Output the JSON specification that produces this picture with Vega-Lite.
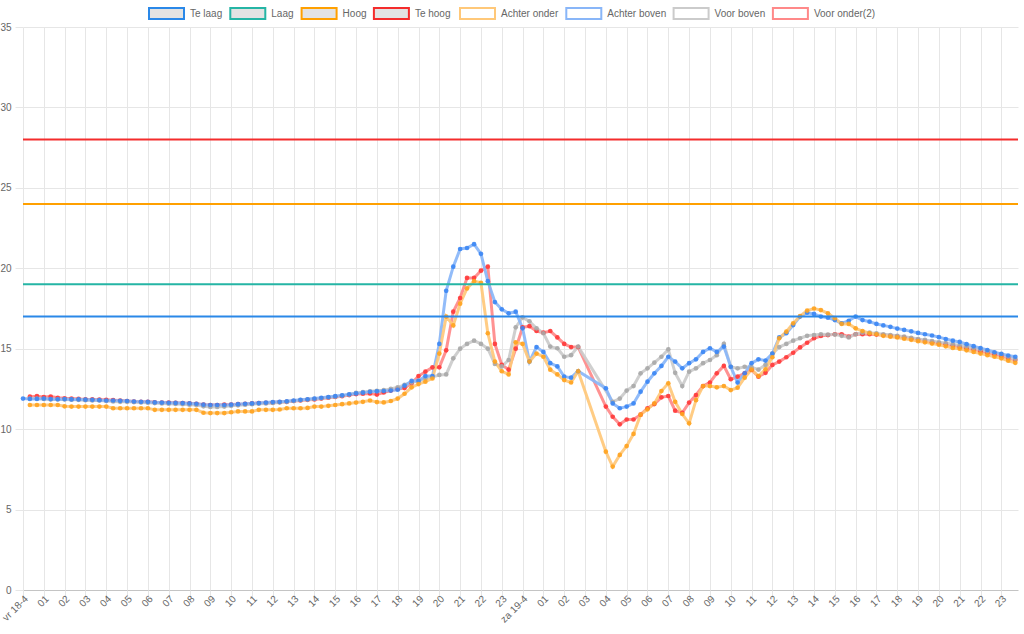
{
  "$schema": "https://vega.github.io/schema/vega-lite/v6.json",
  "width": 995,
  "height": 563,
  "autosize": {"type": "none"},
  "padding": {"left": 23, "top": 27, "right": 6, "bottom": 44},
  "background": "#ffffff",
  "config": {
    "font": "Liberation Sans",
    "view": {"stroke": null},
    "axis": {"labelFont": "Liberation Sans", "labelFontSize": 10, "labelColor": "#666666", "gridColor": "#e6e6e6", "tickColor": "#e6e6e6", "domain": false, "title": null, "tickSize": 8, "labelOverlap": false},
    "axisX": {"labelOverlap": false, "labelBound": false, "labelFlush": false},
    "legend": {"labelFont": "Liberation Sans", "labelFontSize": 10, "labelColor": "#666666"}
  },
  "datasets": {
    "grenzen": [
      {"reeks": "Te laag", "waarde": 17},
      {"reeks": "Laag", "waarde": 19},
      {"reeks": "Hoog", "waarde": 24},
      {"reeks": "Te hoog", "waarde": 28}
    ],
    "metingen": [
      {"uur":0.33,"ab":11.88,"ao":11.5,"vb":11.9,"vo":12.02},
      {"uur":0.67,"ab":11.88,"ao":11.5,"vb":11.9,"vo":12.05},
      {"uur":1,"ab":11.9,"ao":11.5,"vb":11.88,"vo":12},
      {"uur":1.33,"ab":11.87,"ao":11.5,"vb":11.85,"vo":12.03},
      {"uur":1.67,"ab":11.86,"ao":11.5,"vb":11.85,"vo":11.95},
      {"uur":2,"ab":11.87,"ao":11.42,"vb":11.85,"vo":11.92},
      {"uur":2.33,"ab":11.85,"ao":11.4,"vb":11.83,"vo":11.9},
      {"uur":2.67,"ab":11.85,"ao":11.4,"vb":11.82,"vo":11.88},
      {"uur":3,"ab":11.83,"ao":11.4,"vb":11.8,"vo":11.85},
      {"uur":3.33,"ab":11.82,"ao":11.4,"vb":11.78,"vo":11.85},
      {"uur":3.67,"ab":11.8,"ao":11.4,"vb":11.78,"vo":11.83},
      {"uur":4,"ab":11.78,"ao":11.4,"vb":11.75,"vo":11.82},
      {"uur":4.33,"ab":11.78,"ao":11.3,"vb":11.72,"vo":11.8},
      {"uur":4.67,"ab":11.76,"ao":11.3,"vb":11.7,"vo":11.78},
      {"uur":5,"ab":11.75,"ao":11.3,"vb":11.7,"vo":11.75},
      {"uur":5.33,"ab":11.72,"ao":11.3,"vb":11.68,"vo":11.72},
      {"uur":5.67,"ab":11.7,"ao":11.3,"vb":11.66,"vo":11.7},
      {"uur":6,"ab":11.7,"ao":11.3,"vb":11.64,"vo":11.7},
      {"uur":6.33,"ab":11.66,"ao":11.2,"vb":11.62,"vo":11.67},
      {"uur":6.67,"ab":11.65,"ao":11.2,"vb":11.6,"vo":11.65},
      {"uur":7,"ab":11.64,"ao":11.2,"vb":11.58,"vo":11.65},
      {"uur":7.33,"ab":11.63,"ao":11.2,"vb":11.57,"vo":11.63},
      {"uur":7.67,"ab":11.62,"ao":11.2,"vb":11.55,"vo":11.62},
      {"uur":8,"ab":11.6,"ao":11.2,"vb":11.52,"vo":11.6},
      {"uur":8.33,"ab":11.58,"ao":11.2,"vb":11.5,"vo":11.58},
      {"uur":8.67,"ab":11.52,"ao":11.02,"vb":11.42,"vo":11.52},
      {"uur":9,"ab":11.5,"ao":11,"vb":11.38,"vo":11.5},
      {"uur":9.33,"ab":11.5,"ao":11,"vb":11.38,"vo":11.5},
      {"uur":9.67,"ab":11.5,"ao":11,"vb":11.4,"vo":11.52},
      {"uur":10,"ab":11.52,"ao":11.05,"vb":11.45,"vo":11.53},
      {"uur":10.33,"ab":11.55,"ao":11.1,"vb":11.48,"vo":11.55},
      {"uur":10.67,"ab":11.58,"ao":11.1,"vb":11.52,"vo":11.57},
      {"uur":11,"ab":11.6,"ao":11.1,"vb":11.55,"vo":11.6},
      {"uur":11.33,"ab":11.62,"ao":11.2,"vb":11.58,"vo":11.62},
      {"uur":11.67,"ab":11.65,"ao":11.2,"vb":11.6,"vo":11.63},
      {"uur":12,"ab":11.68,"ao":11.2,"vb":11.63,"vo":11.65},
      {"uur":12.33,"ab":11.7,"ao":11.22,"vb":11.66,"vo":11.68},
      {"uur":12.67,"ab":11.73,"ao":11.3,"vb":11.7,"vo":11.7},
      {"uur":13,"ab":11.78,"ao":11.3,"vb":11.75,"vo":11.75},
      {"uur":13.33,"ab":11.82,"ao":11.3,"vb":11.8,"vo":11.78},
      {"uur":13.67,"ab":11.86,"ao":11.32,"vb":11.84,"vo":11.82},
      {"uur":14,"ab":11.9,"ao":11.4,"vb":11.88,"vo":11.85},
      {"uur":14.33,"ab":11.95,"ao":11.4,"vb":11.92,"vo":11.9},
      {"uur":14.67,"ab":12,"ao":11.45,"vb":11.97,"vo":11.95},
      {"uur":15,"ab":12.05,"ao":11.5,"vb":12.02,"vo":12},
      {"uur":15.33,"ab":12.1,"ao":11.55,"vb":12.08,"vo":12.05},
      {"uur":15.67,"ab":12.17,"ao":11.6,"vb":12.15,"vo":12.12},
      {"uur":16,"ab":12.22,"ao":11.65,"vb":12.25,"vo":12.18},
      {"uur":16.33,"ab":12.27,"ao":11.7,"vb":12.3,"vo":12.2},
      {"uur":16.67,"ab":12.32,"ao":11.78,"vb":12.35,"vo":12.22},
      {"uur":17,"ab":12.35,"ao":11.68,"vb":12.38,"vo":12.15},
      {"uur":17.33,"ab":12.37,"ao":11.66,"vb":12.42,"vo":12.28},
      {"uur":17.67,"ab":12.4,"ao":11.75,"vb":12.5,"vo":12.4},
      {"uur":18,"ab":12.45,"ao":11.9,"vb":12.6,"vo":12.5},
      {"uur":18.33,"ab":12.7,"ao":12.2,"vb":12.75,"vo":12.55},
      {"uur":18.67,"ab":13,"ao":12.6,"vb":12.9,"vo":12.85},
      {"uur":19,"ab":13,"ao":12.8,"vb":13,"vo":13.3},
      {"uur":19.33,"ab":13.3,"ao":12.95,"vb":13.15,"vo":13.57},
      {"uur":19.67,"ab":13.3,"ao":13.15,"vb":13.25,"vo":13.84},
      {"uur":20,"ab":15.3,"ao":14.7,"vb":13.37,"vo":13.84},
      {"uur":20.33,"ab":18.6,"ao":17,"vb":13.4,"vo":14.9},
      {"uur":20.67,"ab":20.1,"ao":16.45,"vb":14.4,"vo":17.3},
      {"uur":21,"ab":21.2,"ao":17.8,"vb":15,"vo":18.15},
      {"uur":21.33,"ab":21.26,"ao":18.75,"vb":15.3,"vo":19.4},
      {"uur":21.67,"ab":21.5,"ao":19.2,"vb":15.5,"vo":19.4},
      {"uur":22,"ab":20.9,"ao":19.1,"vb":15.3,"vo":19.85},
      {"uur":22.33,"ab":19.2,"ao":15.96,"vb":15,"vo":20.1},
      {"uur":22.67,"ab":17.9,"ao":14.2,"vb":14.05,"vo":15.3},
      {"uur":23,"ab":17.45,"ao":13.6,"vb":13.9,"vo":14},
      {"uur":23.33,"ab":17.2,"ao":13.4,"vb":14.3,"vo":13.7},
      {"uur":23.67,"ab":17.3,"ao":15.4,"vb":16.33,"vo":15},
      {"uur":24,"ab":16.27,"ao":15.3,"vb":16.95,"vo":16.33},
      {"uur":24.33,"ab":14.2,"ao":14.2,"vb":16.7,"vo":16.4},
      {"uur":24.67,"ab":15.1,"ao":14.7,"vb":16.27,"vo":16.1},
      {"uur":25,"ab":14.8,"ao":14.5,"vb":15.96,"vo":16},
      {"uur":25.33,"ab":14.1,"ao":13.7,"vb":15.13,"vo":16.1},
      {"uur":25.67,"ab":13.9,"ao":13.4,"vb":15.03,"vo":15.7},
      {"uur":26,"ab":13.26,"ao":13.05,"vb":14.5,"vo":15.3},
      {"uur":26.33,"ab":13.2,"ao":12.9,"vb":14.6,"vo":15.1},
      {"uur":26.67,"ab":13.6,"ao":13.6,"vb":15.13,"vo":15.1},
      {"uur":28,"ab":12.54,"ao":8.6,"vo":11.4},
      {"uur":28.33,"ab":11.6,"ao":7.67,"vb":11.7,"vo":10.77},
      {"uur":28.67,"ab":11.3,"ao":8.4,"vb":11.9,"vo":10.3},
      {"uur":29,"ab":11.4,"ao":8.95,"vb":12.4,"vo":10.6},
      {"uur":29.33,"ab":11.6,"ao":9.7,"vb":12.68,"vo":10.6},
      {"uur":29.67,"ab":12.33,"ao":10.9,"vb":13.47,"vo":10.9},
      {"uur":30,"ab":12.95,"ao":11.23,"vb":13.78,"vo":11.3},
      {"uur":30.33,"ab":13.47,"ao":11.6,"vb":14.13,"vo":11.56},
      {"uur":30.67,"ab":13.93,"ao":12.37,"vb":14.5,"vo":11.98},
      {"uur":31,"ab":14.5,"ao":12.85,"vb":14.96,"vo":12.06},
      {"uur":31.33,"ab":14.2,"ao":11.7,"vb":13.5,"vo":11.15},
      {"uur":31.67,"ab":13.78,"ao":10.94,"vb":12.68,"vo":11.02},
      {"uur":32,"ab":14.1,"ao":10.36,"vb":13.57,"vo":11.65},
      {"uur":32.33,"ab":14.34,"ao":11.8,"vb":13.78,"vo":12.12},
      {"uur":32.67,"ab":14.8,"ao":12.68,"vb":14.1,"vo":12.68},
      {"uur":33,"ab":15.03,"ao":12.68,"vb":14.3,"vo":12.9},
      {"uur":33.33,"ab":14.8,"ao":12.6,"vb":14.6,"vo":13.47},
      {"uur":33.67,"ab":15.13,"ao":12.68,"vb":15.3,"vo":13.93},
      {"uur":34,"ab":13.88,"ao":12.43,"vb":13.88,"vo":13.1},
      {"uur":34.33,"ab":12.9,"ao":12.58,"vb":13.78,"vo":13.26},
      {"uur":34.67,"ab":13.47,"ao":13.2,"vb":13.88,"vo":13.47},
      {"uur":35,"ab":14.1,"ao":13.7,"vb":13.85,"vo":13.68},
      {"uur":35.33,"ab":14.34,"ao":13.3,"vb":13.7,"vo":13.26},
      {"uur":35.67,"ab":14.26,"ao":13.72,"vb":14,"vo":13.5},
      {"uur":36,"ab":14.7,"ao":14.47,"vb":14.7,"vo":13.99},
      {"uur":36.33,"ab":15.7,"ao":15.65,"vb":15.1,"vo":14.2},
      {"uur":36.67,"ab":15.96,"ao":16.06,"vb":15.3,"vo":14.47},
      {"uur":37,"ab":16.47,"ao":16.58,"vb":15.5,"vo":14.75},
      {"uur":37.33,"ab":17,"ao":17.03,"vb":15.65,"vo":15.08},
      {"uur":37.67,"ab":17.24,"ao":17.37,"vb":15.8,"vo":15.37},
      {"uur":38,"ab":17.16,"ao":17.5,"vb":15.85,"vo":15.65},
      {"uur":38.33,"ab":17,"ao":17.4,"vb":15.9,"vo":15.79},
      {"uur":38.67,"ab":16.93,"ao":17.2,"vb":15.88,"vo":15.85},
      {"uur":39,"ab":16.78,"ao":16.9,"vb":15.88,"vo":15.9},
      {"uur":39.33,"ab":16.58,"ao":16.54,"vb":15.8,"vo":15.9},
      {"uur":39.67,"ab":16.74,"ao":16.54,"vb":15.7,"vo":15.75},
      {"uur":40,"ab":17,"ao":16.27,"vb":15.9,"vo":15.9},
      {"uur":40.33,"ab":16.78,"ao":16.1,"vb":16,"vo":15.9},
      {"uur":40.67,"ab":16.68,"ao":15.96,"vb":16,"vo":15.9},
      {"uur":41,"ab":16.54,"ao":15.9,"vb":15.95,"vo":15.88},
      {"uur":41.33,"ab":16.45,"ao":15.8,"vb":15.9,"vo":15.85},
      {"uur":41.67,"ab":16.36,"ao":15.75,"vb":15.85,"vo":15.8},
      {"uur":42,"ab":16.25,"ao":15.7,"vb":15.8,"vo":15.75},
      {"uur":42.33,"ab":16.17,"ao":15.62,"vb":15.75,"vo":15.7},
      {"uur":42.67,"ab":16.08,"ao":15.55,"vb":15.68,"vo":15.62},
      {"uur":43,"ab":15.98,"ao":15.47,"vb":15.6,"vo":15.55},
      {"uur":43.33,"ab":15.9,"ao":15.4,"vb":15.55,"vo":15.48},
      {"uur":43.67,"ab":15.82,"ao":15.32,"vb":15.48,"vo":15.4},
      {"uur":44,"ab":15.72,"ao":15.25,"vb":15.4,"vo":15.33},
      {"uur":44.33,"ab":15.6,"ao":15.15,"vb":15.35,"vo":15.27},
      {"uur":44.67,"ab":15.5,"ao":15.05,"vb":15.28,"vo":15.2},
      {"uur":45,"ab":15.42,"ao":15,"vb":15.2,"vo":15.1},
      {"uur":45.33,"ab":15.28,"ao":14.9,"vb":15.12,"vo":15.03},
      {"uur":45.67,"ab":15.16,"ao":14.8,"vb":15.02,"vo":14.95},
      {"uur":46,"ab":15.04,"ao":14.7,"vb":14.95,"vo":14.85},
      {"uur":46.33,"ab":14.92,"ao":14.6,"vb":14.85,"vo":14.75},
      {"uur":46.67,"ab":14.78,"ao":14.5,"vb":14.75,"vo":14.65},
      {"uur":47,"ab":14.68,"ao":14.4,"vb":14.65,"vo":14.55},
      {"uur":47.33,"ab":14.58,"ao":14.25,"vb":14.5,"vo":14.42},
      {"uur":47.67,"ab":14.5,"ao":14.12,"vb":14.36,"vo":14.3},
      {"uur":0,"ab":11.9}
    ]
  },
  "layer": [
    {
      "data": {"name": "metingen"},
      "transform": [
        {"fold": ["vo", "vb", "ab", "ao"], "as": ["reeks", "waarde"]},
        {"filter": "isValid(datum.waarde)"}
      ],
      "mark": {"type": "line", "strokeWidth": 3, "opacity": 0.92},
      "encoding": {
        "x": {
          "field": "uur", "type": "quantitative",
          "scale": {"domain": [0, 47.8], "nice": false, "zero": false},
          "axis": {
            "values": [0,1,2,3,4,5,6,7,8,9,10,11,12,13,14,15,16,17,18,19,20,21,22,23,24,25,26,27,28,29,30,31,32,33,34,35,36,37,38,39,40,41,42,43,44,45,46,47],
            "labelExpr": "datum.value == 0 ? 'vr 18-4' : datum.value == 24 ? 'za 19-4' : (datum.value % 24 < 10 ? '0' : '') + (datum.value % 24)",
            "labelAngle": -45, "labelAlign": "right", "labelBaseline": "middle", "labelPadding": -1, "labelOffset": 3,
            "grid": true, "labelOverlap": false, "labelBound": false, "labelFlush": false
          }
        },
        "y": {
          "field": "waarde", "type": "quantitative",
          "scale": {"domain": [0, 35], "nice": false},
          "axis": {
            "values": [0,5,10,15,20,25,30,35], "labelPadding": 4, "grid": true,
            "gridColor": {"condition": {"test": "datum.value === 0", "value": "#c4c4c4"}, "value": "#e6e6e6"}
          }
        },
        "color": {
          "field": "reeks", "type": "nominal",
          "scale": {
            "domain": ["ao", "ab", "vb", "vo"],
            "range": ["#ffc879", "#89b6f8", "#cbcbcb", "#ff8989"]
          },
          "legend": {
            "title": null, "orient": "none", "legendX": 436, "legendY": -32, "direction": "horizontal",
            "symbolType": "M-1,-0.31H1V0.31H-1Z", "symbolSize": 1225, "symbolStrokeWidth": 2,
            "symbolFillColor": "#ffffff", "symbolOpacity": 1,
            "labelOffset": 5, "columnPadding": 3.3,
            "labelExpr": "datum.value == 'ao' ? 'Achter onder' : datum.value == 'ab' ? 'Achter boven' : datum.value == 'vb' ? 'Voor boven' : 'Voor onder(2)'"
          }
        }
      }
    },
    {
      "data": {"name": "metingen"},
      "transform": [
        {"fold": ["vo", "vb", "ab", "ao"], "as": ["reeks", "waarde"]},
        {"filter": "isValid(datum.waarde)"}
      ],
      "mark": {"type": "circle", "size": 22, "opacity": 0.9},
      "encoding": {
        "x": {
          "field": "uur", "type": "quantitative",
          "axis": {
            "values": [0,1,2,3,4,5,6,7,8,9,10,11,12,13,14,15,16,17,18,19,20,21,22,23,24,25,26,27,28,29,30,31,32,33,34,35,36,37,38,39,40,41,42,43,44,45,46,47],
            "labelExpr": "datum.value == 0 ? 'vr 18-4' : datum.value == 24 ? 'za 19-4' : (datum.value % 24 < 10 ? '0' : '') + (datum.value % 24)",
            "labelAngle": -45, "labelAlign": "right", "labelBaseline": "middle", "labelPadding": -1, "labelOffset": 3,
            "grid": true, "labelOverlap": false, "labelBound": false, "labelFlush": false
          }
        },
        "y": {"field": "waarde", "type": "quantitative"},
        "fill": {
          "field": "reeks", "type": "nominal",
          "scale": {
            "domain": ["vo", "vb", "ab", "ao"],
            "range": ["#ff3a3a", "#a8a8a8", "#3b86f4", "#ffa31f"]
          },
          "legend": null
        }
      }
    },
    {
      "data": {"name": "grenzen"},
      "mark": {"type": "rule", "strokeWidth": 2},
      "encoding": {
        "y": {"field": "waarde", "type": "quantitative"},
        "stroke": {
          "field": "reeks", "type": "nominal",
          "scale": {
            "domain": ["Te laag", "Laag", "Hoog", "Te hoog"],
            "range": ["#2a88e8", "#25b5a5", "#ffa000", "#f42c2c"]
          },
          "legend": {
            "title": null, "orient": "none", "legendX": 125, "legendY": -32, "direction": "horizontal",
            "symbolType": "M-1,-0.31H1V0.31H-1Z", "symbolSize": 1225, "symbolStrokeWidth": 2,
            "symbolFillColor": "#e3e3e3", "symbolOpacity": 1,
            "labelOffset": 5, "columnPadding": 3.3
          }
        }
      }
    }
  ]
}
